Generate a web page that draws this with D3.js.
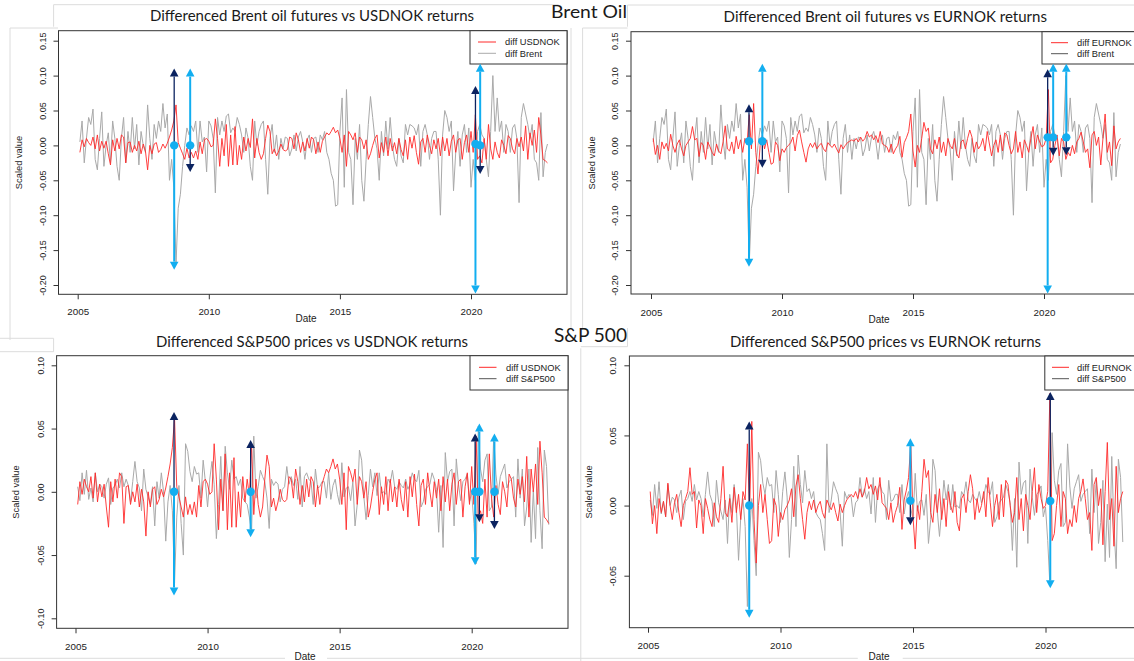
<!DOCTYPE html>
<html>
<head>
<meta charset="utf-8">
<script src="https://cdn.jsdelivr.net/npm/d3@7"></script>
<style>
body { margin: 0; background: #fff; }
svg { display: block; }
text { font-family: "Liberation Sans", Arial, sans-serif; fill: #222; }
.ttl { font-family: Lato, "Open Sans", sans-serif; fill: #1a1a1a; }
</style>
</head>
<body>
<svg id="chart" width="1134" height="661"></svg>
<script>
// monthly differenced series, Feb 2005 .. Dec 2022 (215 values each)
var usdnok = [
  -0.010, 0.008, -0.002, 0.010, 0.004, 0.000, 0.012, -0.005, 0.015, -0.008, 0.006,
  -0.004, 0.006, -0.012, -0.028, 0.008, -0.008, 0.010, -0.005, 0.015, 0.012, -0.025, 0.004,
  0.005, -0.010, 0.000, -0.008, 0.006, -0.012, 0.002, -0.008, -0.035, 0.000, -0.012, 0.002,
  0.004, -0.010, -0.006, 0.002, -0.004, 0.003, 0.012, 0.022, 0.035, 0.058, 0.004, -0.004,
  -0.012, -0.020, -0.004, -0.018, -0.010, -0.018, -0.008, -0.020, 0.005, -0.012, 0.008, 0.010,
  0.006, -0.002, 0.000, 0.038, 0.010, -0.030, 0.010, -0.015, 0.030, -0.030, 0.015, -0.028,
  0.027, -0.028, 0.000, -0.020, 0.012, -0.008, 0.010, -0.003, 0.038, -0.018, 0.010, -0.010,
  -0.020, -0.012, 0.010, 0.029, 0.020, -0.012, -0.005, -0.015, -0.008, 0.002, -0.006, -0.008,
  -0.006, 0.012, 0.010, -0.005, 0.018, 0.008, -0.010, 0.005, -0.008, 0.010, -0.004, 0.012,
  0.008, -0.012, 0.005, -0.010, 0.006, 0.012, 0.018, 0.015, 0.020, 0.026, 0.018, 0.022,
  0.010, -0.010, 0.015, -0.030, 0.020, 0.015, 0.008, 0.018, -0.010, 0.012, 0.008, -0.005,
  0.008, -0.020, -0.012, 0.000, 0.010, 0.015, -0.018, 0.004, -0.010, 0.012, -0.015, 0.010,
  -0.008, 0.004, -0.012, 0.010, -0.006, -0.015, 0.008, -0.020, 0.012, -0.004, 0.014, -0.010,
  -0.027, 0.005, 0.010, -0.010, 0.015, 0.000, -0.012, 0.008, -0.005, 0.010, -0.015, 0.012,
  -0.008, 0.010, -0.015, 0.006, 0.015, -0.010, 0.008, 0.010, -0.020, 0.004, 0.015, -0.010,
  0.020, -0.010, 0.044, -0.020, -0.015, -0.025, 0.010, -0.020, 0.030, -0.005, -0.020, 0.005,
  -0.010, -0.018, 0.008, 0.000, -0.012, 0.014, 0.010, -0.005, -0.012, 0.010, -0.002, 0.012,
  -0.008, 0.028, -0.020, 0.018, 0.000, 0.022, -0.010, 0.040, 0.015, -0.020, -0.022, -0.025
];
var eurnok = [
  0.010, -0.013, 0.000, -0.020, 0.005, -0.005, 0.003, -0.008, 0.016, 0.000, -0.010,
  0.002, 0.008, -0.005, -0.015, 0.000, 0.005, 0.010, 0.027, 0.008, 0.010, -0.016, 0.004,
  0.000, -0.020, 0.005, -0.002, -0.010, -0.015, 0.002, -0.008, -0.012, 0.005, 0.028, -0.005,
  -0.008, 0.005, -0.012, 0.013, -0.005, 0.008, -0.010, 0.010, 0.004, 0.044, -0.005, 0.060,
  -0.010, -0.041, 0.000, 0.015, -0.005, 0.008, -0.010, -0.027, -0.025, 0.005, 0.000, -0.022,
  -0.005, -0.010, -0.003, 0.000, 0.004, 0.012, -0.008, 0.014, 0.022, 0.005, -0.010, -0.024,
  -0.005, 0.003, -0.003, 0.004, -0.005, 0.000, 0.003, -0.005, -0.009, 0.004, 0.000, -0.003,
  0.002, -0.005, -0.011, 0.001, -0.005, 0.000, 0.004, 0.006, 0.008, 0.006, 0.010, 0.005,
  0.012, 0.006, 0.010, 0.020, 0.012, 0.015, 0.008, 0.014, 0.004, 0.020, 0.002, 0.000,
  -0.002, -0.010, 0.002, -0.012, -0.005, 0.000, 0.013, -0.017, 0.004, 0.011, 0.020, 0.045,
  -0.008, -0.031, 0.000, -0.010, 0.010, 0.033, 0.020, 0.025, -0.005, -0.012, 0.008, -0.005,
  0.012, -0.010, 0.005, -0.015, 0.010, 0.000, -0.005, 0.010, -0.012, -0.018, 0.005, 0.008,
  -0.005, 0.010, 0.022, 0.012, -0.010, 0.005, -0.005, 0.000, 0.010, -0.008, 0.020, 0.002,
  -0.015, 0.000, 0.008, -0.010, 0.015, -0.008, 0.018, 0.015, 0.000, -0.012, -0.005, 0.020,
  -0.010, 0.005, -0.018, 0.008, 0.000, -0.010, 0.010, 0.027, -0.005, 0.015, 0.005, -0.002,
  0.000, 0.010, 0.080, -0.025, -0.020, 0.000, 0.015, -0.015, 0.010, 0.005, -0.020, -0.010,
  -0.015, 0.000, -0.012, 0.005, 0.010, 0.019, 0.005, -0.010, -0.005, -0.032, 0.015, 0.020,
  0.000, 0.012, -0.028, 0.010, 0.045, -0.010, 0.005, -0.029, 0.028, -0.005, 0.005, 0.010
];
var brent = [
  0.005, 0.035, -0.025, 0.010, 0.040, 0.030, 0.052, -0.020, -0.035, 0.010, 0.048,
  -0.030, 0.000, 0.018, -0.025, 0.035, 0.010, -0.030, -0.050, 0.010, 0.040, -0.025, 0.020,
  -0.010, 0.040, -0.005, 0.030, -0.028, 0.020, 0.000, -0.010, 0.058, 0.010, -0.020, 0.030,
  0.010, 0.035, 0.020, 0.060, 0.025, 0.045, -0.050, -0.020, -0.060, -0.170, -0.090, -0.070,
  -0.030, 0.000, 0.025, 0.015, 0.028, 0.020, 0.035, -0.010, 0.035, 0.005, 0.012, -0.038,
  0.035, 0.028, 0.010, -0.068, 0.040, 0.015, 0.035, 0.020, 0.042, 0.045, 0.018, 0.025,
  0.020, 0.040, 0.030, 0.015, -0.010, 0.025, 0.010, -0.030, -0.050, 0.035, 0.000, 0.020,
  0.030, 0.035, -0.020, -0.070, 0.010, 0.030, -0.010, 0.015, -0.020, 0.010, -0.005, 0.012,
  0.010, -0.015, -0.005, 0.015, -0.008, 0.012, 0.020, 0.005, -0.020, 0.008, 0.015, -0.010,
  0.010, 0.012, -0.010, 0.015, 0.008, 0.020, -0.010, -0.020, -0.040, -0.050, -0.087, -0.085,
  0.020, 0.068, -0.060, 0.080, -0.010, -0.020, -0.085, 0.010, -0.020, 0.030, -0.050, -0.080,
  -0.020, 0.030, 0.070, 0.040, 0.010, -0.005, -0.050, 0.020, -0.015, 0.035, -0.005, 0.040,
  0.000, -0.020, -0.030, 0.010, -0.015, -0.025, 0.030, 0.015, 0.030, 0.028, 0.025, 0.015,
  0.030, -0.030, 0.020, 0.030, 0.015, -0.020, 0.010, 0.020, 0.020, -0.020, -0.100, 0.015,
  0.050, 0.040, 0.020, 0.035, -0.065, -0.010, 0.020, -0.030, 0.015, 0.030, -0.010, 0.025,
  -0.060, -0.020, -0.050, 0.020, 0.030, 0.015, 0.010, -0.020, -0.045, 0.020, 0.100, 0.020,
  0.068, 0.020, 0.035, -0.010, 0.030, 0.020, -0.010, 0.025, 0.030, 0.010, -0.082, 0.040,
  0.060, 0.045, 0.030, 0.010, 0.030, -0.020, -0.025, -0.050, 0.047, -0.045, -0.010, 0.002
];
var sp500 = [
  0.004, -0.007, 0.015, -0.002, 0.017, -0.006, 0.003, -0.008, 0.015, 0.000, 0.006,
  0.004, -0.005, 0.006, 0.011, -0.010, 0.003, 0.005, 0.010, 0.003, 0.015, 0.004, 0.010,
  0.005, -0.008, 0.008, 0.024, 0.008, 0.003, -0.015, 0.018, 0.002, -0.004, -0.010, 0.004,
  -0.027, 0.008, -0.005, 0.015, 0.000, -0.039, -0.008, 0.005, -0.015, -0.072, -0.020, 0.005,
  -0.025, -0.050, 0.038, 0.032, 0.016, 0.008, 0.020, 0.014, 0.015, -0.005, 0.025, 0.008,
  -0.012, 0.010, 0.024, 0.006, -0.037, -0.010, 0.028, -0.015, 0.036, 0.015, 0.002, 0.025,
  0.010, 0.012, 0.005, 0.010, -0.005, -0.008, -0.010, -0.020, -0.032, 0.044, -0.005, 0.004,
  0.017, 0.012, 0.008, -0.005, -0.029, 0.010, 0.005, 0.008, 0.006, -0.008, 0.002, 0.004,
  0.020, 0.006, 0.012, 0.005, 0.010, -0.006, 0.020, -0.012, 0.012, 0.015, 0.010, 0.008,
  -0.010, 0.018, 0.003, 0.004, 0.008, 0.008, -0.005, 0.015, -0.006, 0.005, 0.010, -0.002,
  -0.010, 0.023, -0.004, 0.003, 0.004, -0.007, 0.008, -0.027, -0.010, 0.033, 0.025, -0.004,
  -0.022, -0.003, 0.018, 0.004, 0.015, -0.003, 0.015, -0.001, 0.000, -0.002, 0.010, 0.007,
  0.017, 0.004, 0.002, 0.008, 0.005, 0.003, 0.010, 0.002, 0.006, 0.015, 0.010, 0.008,
  0.017, -0.012, -0.008, 0.002, 0.004, 0.006, 0.015, 0.010, 0.002, -0.032, 0.005, -0.044,
  0.031, 0.008, 0.016, 0.018, -0.027, 0.026, 0.006, -0.007, 0.008, 0.010, 0.014, -0.008,
  -0.001, -0.025, -0.057, 0.052, 0.018, 0.008, 0.025, 0.030, -0.015, -0.012, 0.044, 0.014,
  -0.002, 0.012, 0.017, 0.022, 0.003, 0.008, 0.010, 0.012, -0.020, 0.026, -0.005, 0.018,
  -0.027, -0.012, 0.018, -0.040, 0.001, -0.037, 0.035, -0.015, -0.045, 0.033, 0.020, -0.026
];

// annotated events: date, dot level, end of currency arrow (navy), end of asset arrow (blue)
var brentUsdMarks = [
  { t: 2008.68, dot: 0.000, fx: 0.110, asset: -0.178 },
  { t: 2009.29, dot: 0.000, fx: -0.038, asset: 0.110 },
  { t: 2020.17, dot: 0.002, fx: 0.085, asset: -0.212 },
  { t: 2020.35, dot: 0.000, fx: -0.041, asset: 0.117 }
];
var brentEurMarks = [
  { t: 2008.74, dot: 0.006, fx: 0.059, asset: -0.174 },
  { t: 2009.25, dot: 0.006, fx: -0.032, asset: 0.117 },
  { t: 2020.14, dot: 0.0115, fx: 0.109, asset: -0.212 },
  { t: 2020.35, dot: 0.0115, fx: -0.015, asset: 0.117 },
  { t: 2020.85, dot: 0.0115, fx: -0.014, asset: 0.117 }
];
var spUsdMarks = [
  { t: 2008.73, dot: 0.000, fx: 0.063, asset: -0.082 },
  { t: 2011.63, dot: 0.000, fx: 0.041, asset: -0.036 },
  { t: 2020.13, dot: 0.000, fx: 0.046, asset: -0.058 },
  { t: 2020.29, dot: 0.000, fx: -0.024, asset: 0.054 },
  { t: 2020.86, dot: 0.000, fx: -0.0295, asset: 0.046 }
];
var spEurMarks = [
  { t: 2008.82, dot: 0.000, fx: 0.060, asset: -0.080 },
  { t: 2014.90, dot: 0.0035, fx: -0.014, asset: 0.048 },
  { t: 2020.18, dot: 0.0033, fx: 0.081, asset: -0.059 }
];

var xTicks = [2005, 2010, 2015, 2020];
var bigTicks = [-0.20, -0.15, -0.10, -0.05, 0.00, 0.05, 0.10, 0.15];

var navy = "#0b2360", cyan = "#12aef0";

var panels = [
  { title: "Differenced Brent oil futures vs USDNOK returns", tx: [150, 474], tBase: 21,
    fx: usdnok, fxName: "diff USDNOK", asset: brent, assetName: "diff Brent", legCol: "#aaaaaa",
    marks: brentUsdMarks, xr: [77.7, 471], yd: [-0.2, 0.15], yr: [285, 40.7], yTicks: bigTicks,
    box: { l: 58.5, t: 30.7, r: 567, b: 294.3 }, tickLab: 46, yLab: 22, xLab: 315.5, dateBase: 322.3, dateX: 306,
    leg: { l: 470, t: 30.7, r: 567, b: 64, x1: 478, x2: 496, tx: 505, r1: 42, r2: 53.3 } },
  { title: "Differenced Brent oil futures vs EURNOK returns", tx: [723.6, 1047], tBase: 21.7,
    fx: eurnok, fxName: "diff EURNOK", asset: brent, assetName: "diff Brent", legCol: "#555",
    marks: brentEurMarks, xr: [651, 1044], yd: [-0.2, 0.15], yr: [285, 40.7], yTicks: bigTicks,
    box: { l: 631, t: 31.7, r: 1140, b: 294 }, tickLab: 617.8, yLab: 595, xLab: 315.5, dateBase: 323, dateX: 879,
    leg: { l: 1042, t: 31.7, r: 1140, b: 64, x1: 1051, x2: 1068, tx: 1077, r1: 42.7, r2: 53.7 } },
  { title: "Differenced S&P500 prices vs USDNOK returns", tx: [156, 468], tBase: 347,
    fx: usdnok, fxName: "diff USDNOK", asset: sp500, assetName: "diff S&P500", legCol: "#555",
    marks: spUsdMarks, xr: [75.5, 471.7], yd: [-0.1, 0.1], yr: [618.3, 365.3], yTicks: [-0.10, -0.05, 0, 0.05, 0.10],
    box: { l: 56.6, t: 355.7, r: 568, b: 628.3 }, tickLab: 44.4, yLab: 19, xLab: 650, dateBase: 660, dateX: 305,
    leg: { l: 470, t: 355.7, r: 568, b: 390, x1: 479, x2: 496.5, tx: 506, r1: 367.3, r2: 378.7 } },
  { title: "Differenced S&P500 prices vs EURNOK returns", tx: [730, 1041], tBase: 346.7,
    fx: eurnok, fxName: "diff EURNOK", asset: sp500, assetName: "diff S&P500", legCol: "#555",
    marks: spEurMarks, xr: [648, 1045.5], yd: [-0.05, 0.1], yr: [575.7, 365.3], yTicks: [-0.05, 0, 0.05, 0.10],
    box: { l: 629.4, t: 356, r: 1140, b: 627.7 }, tickLab: 616, yLab: 591.6, xLab: 649, dateBase: 660, dateX: 879,
    leg: { l: 1044.8, t: 356, r: 1140, b: 390, x1: 1052, x2: 1069, tx: 1077, r1: 367.3, r2: 378.7 } }
];

// faint screenshot frames between the pasted plots
var frameLines = [
  [10, 28, 10, 340], [10, 28, 58, 28], [53.6, 4.7, 558.6, 4.7], [53.6, 4.7, 53.6, 26.7],
  [571, 28, 571, 330], [582.6, 28, 582.6, 330], [582.6, 28, 627.5, 28], [627.5, 5, 1134, 5], [627.5, 5, 627.5, 26.7],
  [0, 338.3, 53.6, 338.3], [53.6, 338.3, 53.6, 351.7], [0, 351.7, 53.6, 351.7],
  [0, 658.3, 285, 658.3], [327, 658.3, 857.8, 658.3], [902.7, 658.3, 1134, 658.3],
  [580.8, 348.3, 580.8, 661], [580.8, 346.7, 627.5, 346.7], [627.5, 328, 627.5, 346.7]
];

var svg = d3.select("#chart");

svg.selectAll("line.frame").data(frameLines).enter().append("line").attr("class", "frame")
  .attr("x1", function (d) { return d[0]; }).attr("y1", function (d) { return d[1]; })
  .attr("x2", function (d) { return d[2]; }).attr("y2", function (d) { return d[3]; })
  .attr("stroke", "#dcdcdc").attr("stroke-width", 1);

// section headings
svg.append("text").attr("class", "ttl").attr("x", 551).attr("y", 17.5).attr("font-size", 17.5)
  .attr("textLength", 76).attr("lengthAdjust", "spacingAndGlyphs").text("Brent Oil");
svg.append("text").attr("class", "ttl").attr("x", 554).attr("y", 342).attr("font-size", 18.5)
  .attr("textLength", 73).attr("lengthAdjust", "spacingAndGlyphs").text("S&P 500");

panels.forEach(drawPanel);

function drawPanel(p) {
  var x = d3.scaleLinear().domain([2005, 2020]).range(p.xr);
  var y = d3.scaleLinear().domain(p.yd).range(p.yr);
  var g = svg.append("g");

  g.append("text").attr("class", "ttl").attr("x", p.tx[0]).attr("y", p.tBase).attr("font-size", 15.5)
    .attr("textLength", p.tx[1] - p.tx[0]).attr("lengthAdjust", "spacingAndGlyphs").text(p.title);

  var line = d3.line()
    .x(function (d, i) { return x(2005 + (i + 1) / 12); })
    .y(function (d) { return y(d); });

  g.append("path").attr("d", line(p.asset)).attr("fill", "none")
    .attr("stroke", "#a9a9a9").attr("stroke-width", 1);
  g.append("path").attr("d", line(p.fx)).attr("fill", "none")
    .attr("stroke", "#ff2a2a").attr("stroke-width", 0.9);

  // plot frame
  g.append("rect").attr("x", p.box.l).attr("y", p.box.t)
    .attr("width", p.box.r - p.box.l).attr("height", p.box.b - p.box.t)
    .attr("fill", "none").attr("stroke", "#333").attr("stroke-width", 1);

  var xAxis = g.append("g").attr("transform", "translate(0," + p.box.b + ")")
    .call(d3.axisBottom(x).tickValues(xTicks).tickFormat(d3.format("d")).tickSize(5));
  xAxis.select(".domain").remove();
  xAxis.selectAll("line").attr("stroke", "#333");
  xAxis.selectAll("text").attr("y", p.xLab - p.box.b).attr("dy", null)
    .attr("font-size", 9.8).attr("fill", "#222").attr("font-family", "Liberation Sans, Arial, sans-serif");

  var yAxis = g.append("g").attr("transform", "translate(" + p.box.l + ",0)")
    .call(d3.axisLeft(y).tickValues(p.yTicks).tickFormat(function (d) { return d.toFixed(2); }).tickSize(5));
  yAxis.select(".domain").remove();
  yAxis.selectAll("line").attr("stroke", "#333");
  yAxis.selectAll("text").attr("x", null).attr("dy", null).attr("text-anchor", "middle")
    .attr("transform", "translate(" + (p.tickLab - p.box.l) + ",0) rotate(-90)")
    .attr("font-size", 9).attr("fill", "#222").attr("font-family", "Liberation Sans, Arial, sans-serif");

  g.append("text").attr("x", p.dateX).attr("y", p.dateBase).attr("text-anchor", "middle")
    .attr("font-size", 10).text("Date");
  g.append("text").attr("transform", "translate(" + p.yLab + "," + ((p.box.t + p.box.b) / 2) + ") rotate(-90)")
    .attr("text-anchor", "middle").attr("font-size", 9.3).text("Scaled value");

  // legend
  var L = p.leg;
  g.append("rect").attr("x", L.l).attr("y", L.t).attr("width", L.r - L.l).attr("height", L.b - L.t)
    .attr("fill", "#fff").attr("stroke", "#333").attr("stroke-width", 1);
  g.append("line").attr("x1", L.x1).attr("x2", L.x2).attr("y1", L.r1).attr("y2", L.r1)
    .attr("stroke", "#ff2a2a").attr("stroke-width", 1);
  g.append("line").attr("x1", L.x1).attr("x2", L.x2).attr("y1", L.r2).attr("y2", L.r2)
    .attr("stroke", p.legCol).attr("stroke-width", 1);
  g.append("text").attr("x", L.tx).attr("y", L.r1 + 3.4).attr("font-size", 9.3).text(p.fxName);
  g.append("text").attr("x", L.tx).attr("y", L.r2 + 3.4).attr("font-size", 9.3).text(p.assetName);

  // event arrows
  p.marks.forEach(function (m) {
    drawArrow(g, x(m.t), y(m.dot), y(m.fx), navy, 1.3);
    drawArrow(g, x(m.t), y(m.dot), y(m.asset), cyan, 2);
  });
  g.selectAll("circle.ev").data(p.marks).enter().append("circle").attr("class", "ev")
    .attr("cx", function (m) { return x(m.t); })
    .attr("cy", function (m) { return y(m.dot); })
    .attr("r", 4.2).attr("fill", cyan);
}

function drawArrow(g, cx, y0, y1, col, w) {
  var dir = y1 < y0 ? -1 : 1;
  var head = 8, half = 4.3;
  var base = y1 - dir * head;
  g.append("line").attr("x1", cx).attr("x2", cx).attr("y1", y0).attr("y2", base)
    .attr("stroke", col).attr("stroke-width", w);
  g.append("path")
    .attr("d", "M" + (cx - half) + "," + base + "L" + (cx + half) + "," + base + "L" + cx + "," + y1 + "Z")
    .attr("fill", col);
}
</script>
</body>
</html>
